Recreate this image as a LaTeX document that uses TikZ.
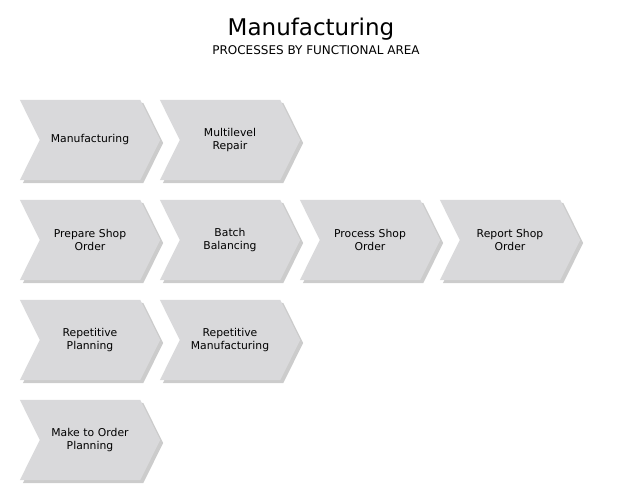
\documentclass[tikz,border=0pt]{standalone}
\usepackage{fontspec}
\setmainfont{DejaVu Sans}
\usetikzlibrary{shadows, backgrounds}

\definecolor{procgray}{RGB}{217,217,219}

\tikzset{
    process/.style={rectangle, minimum width=140pt, minimum height=80pt,
        inner sep=0pt, text width=100pt, align=center,
        font=\fontsize{10.8}{13.5}\selectfont},
    chevron/.style={fill=procgray,
        drop shadow={shadow xshift=3pt, shadow yshift=-3pt, fill=black!40, opacity=0.5}},
}

\begin{document}
\begin{tikzpicture}[x=1pt, y=-1pt]

    % Fix the canvas size
    \useasboundingbox (0,0) rectangle (630,490);

    % Title and subtitle
    \node (title) at (311,29) {\fontsize{23}{23}\selectfont Manufacturing};
    \node (subtitle) at (316,50) {\fontsize{12}{12}\selectfont PROCESSES BY FUNCTIONAL AREA};

    % First row
    \node[process] (mfg) at (90,140) {Manufacturing};
    \node[process] (repair) at (230,140) {Multilevel\\Repair};

    % Second row
    \node[process] (prepare) at (90,240) {Prepare Shop\\Order};
    \node[process] (batch) at (230,240) {Batch\\Balancing};
    \node[process] (procshop) at (370,240) {Process Shop\\Order};
    \node[process] (report) at (510,240) {Report Shop\\Order};

    % Third row
    \node[process] (repplan) at (90,340) {Repetitive\\Planning};
    \node[process] (repmfg) at (230,340) {Repetitive\\Manufacturing};

    % Fourth row
    \node[process] (mto) at (90,440) {Make to Order\\Planning};

    % Draw the chevrons behind the labels
    \begin{scope}[on background layer]
        \foreach \n in {mfg, repair, prepare, batch, procshop, report, repplan, repmfg, mto}
            \fill[chevron] (\n.north west) -- ([xshift=-20pt]\n.north east) -- (\n.east)
                -- ([xshift=-20pt]\n.south east) -- (\n.south west)
                -- ([xshift=20pt]\n.west) -- cycle;
    \end{scope}

\end{tikzpicture}
\end{document}
